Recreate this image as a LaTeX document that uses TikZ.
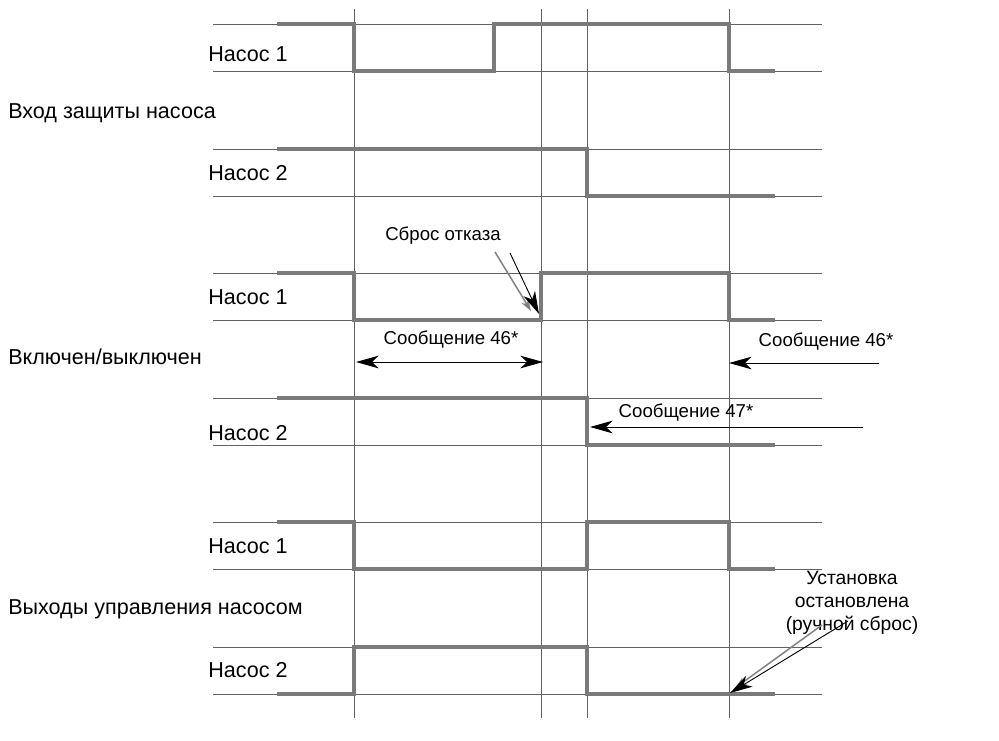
\documentclass[tikz,border=0pt]{standalone}
\usepackage{fontspec}
\setmainfont{Liberation Sans}
\usetikzlibrary{arrows.meta,positioning,calc}
\tikzset{
  guide/.style={draw=black!62,line width=0.6pt},
  sig/.style={draw=black!52,line width=3pt},
  lbl/.style={anchor=base west,inner sep=0pt,font=\fontsize{16.2}{19}\selectfont},
  msg/.style={anchor=base,inner sep=0pt,font=\fontsize{14}{17}\selectfont},
  arr/.style={-{Stealth[length=17pt,width=9.5pt,inset=5pt]},line width=0.7pt},
  garr/.style={-{Stealth[length=9pt,width=6pt]},draw=black!50,fill=black!50,line width=1.1pt},
}

\begin{document}
\begin{tikzpicture}[x=0.0264cm,y=-0.0264cm]
\useasboundingbox (0,0) rectangle (999,740);
% time marks and levels
\foreach \x in {354,541,587,729}{
  \draw[guide] (\x,9)--(\x,718);
}
\foreach \y in {24,71,149,196,273,320,398,445,522,569,647,694}{
  \draw[guide] (213,\y)--(822,\y);
}
% signals
\draw[sig] (277,24)-|(354,71)-|(494,24)-|(729,71)--(775,71);
\draw[sig] (277,149)-|(587,196)--(775,196);
\draw[sig] (277,273)-|(354,320)-|(541,273)-|(729,320)--(775,320);
\draw[sig] (277,398)-|(587,445)--(775,445);
\draw[sig] (277,522)-|(354,569)-|(587,522)-|(729,569)--(775,569);
\draw[sig] (277,694)-|(354,647)-|(587,694)--(775,694);
% labels
\node[lbl] (in1)  at (208,61)  {Насос 1};
\node[lbl] (in)   at (8,118)   {Вход защиты насоса};
\node[lbl] (in2)  at (208,180) {Насос 2};
\node[lbl] (on1)  at (208,304) {Насос 1};
\node[lbl] (on)   at (8,364)   {Включен/выключен};
\node[lbl] (on2)  at (208,440) {Насос 2};
\node[lbl] (out1) at (208,553) {Насос 1};
\node[lbl] (out)  at (8,614)   {Выходы управления насосом};
\node[lbl] (out2) at (208,677) {Насос 2};
% messages
\node[msg] (reset) at (443,240) {Сброс отказа};
\node[msg] (m46a)  at (451,344) {Сообщение 46*};
\node[msg] (m46b)  at (826,346) {Сообщение 46*};
\node[msg] (m47)   at (686,417) {Сообщение 47*};
\node[align=center,inner sep=0pt,font=\fontsize{14.5}{17.3}\selectfont]
  (stop) at (852,603) {Установка\\остановлена\\(ручной сброс)};
% arrow ends
\coordinate (rg0) at (495,252); \coordinate (rg1) at (531,311);
\coordinate (rb0) at (510,253); \coordinate (rb1) at (539,314);
\coordinate (a46) at (356,362); \coordinate (b46) at (543,362);
\coordinate (c46) at (879,363); \coordinate (d46) at (729,363);
\coordinate (a47) at (863,427); \coordinate (b47) at (590,427);
\coordinate (sg0) at (822,625); \coordinate (sg1) at (735,688);
\coordinate (sb0) at (848,621); \coordinate (sb1) at (730,693);
\draw[garr] (rg0)--(rg1);
\draw[arr] (rb0)--(rb1);
\draw[arr,{Stealth[length=17pt,width=9.5pt,inset=5pt]}-{Stealth[length=17pt,width=9.5pt,inset=5pt]}] (a46)--(b46);
\draw[arr] (c46)--(d46);
\draw[arr] (a47)--(b47);
\draw[garr] (sg0)--(sg1);
\draw[arr] (sb0)--(sb1);
\end{tikzpicture}
\end{document}
